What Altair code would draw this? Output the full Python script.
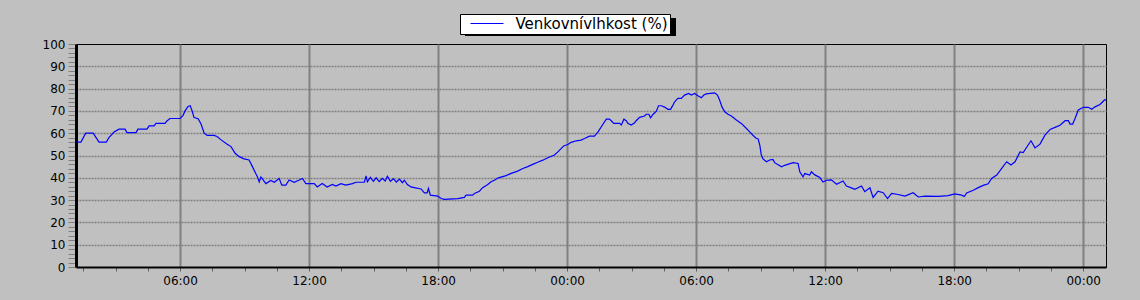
import altair as alt
import pandas as pd

SERIES = "Venkovnívlhkost (%)"
FONT = "DejaVu Sans"

# hours since 00:00 of the first day
hours = [
    1.19, 1.39, 1.61, 1.96, 2.23, 2.57, 2.69, 2.93, 3.16, 3.44,
    3.53, 3.95, 4.04, 4.46, 4.56, 4.79, 4.88, 5.30, 5.39, 5.53,
    6.00, 6.14, 6.23, 6.37, 6.47, 6.56, 6.65, 6.84, 6.98, 7.12,
    7.26, 7.58, 7.72, 7.91, 8.19, 8.37, 8.56, 8.75, 8.98, 9.21,
    9.37, 9.52, 9.60, 9.68, 9.76, 9.99, 10.22, 10.38, 10.61, 10.73,
    10.92, 11.07, 11.31, 11.54, 11.69, 11.85, 12.24, 12.38, 12.61, 12.84,
    13.08, 13.25, 13.48, 13.71, 14.02, 14.18, 14.57, 14.65, 14.71, 14.85,
    14.99, 15.12, 15.26, 15.40, 15.54, 15.64, 15.78, 15.92, 16.06, 16.20,
    16.34, 16.43, 16.57, 16.74, 16.89, 17.21, 17.36, 17.49, 17.55, 17.64,
    17.98, 18.14, 18.29, 18.91, 19.22, 19.30, 19.61, 19.69, 19.92, 20.07,
    20.31, 20.46, 20.62, 20.80, 21.16, 21.40, 21.70, 21.94, 22.17, 22.40,
    22.63, 22.87, 23.10, 23.41, 23.57, 23.72, 23.84, 24.03, 24.19, 24.42,
    24.65, 24.81, 25.04, 25.27, 25.43, 25.59, 25.82, 25.97, 26.05, 26.17,
    26.44, 26.52, 26.64, 26.75, 26.82, 26.98, 27.14, 27.21, 27.37, 27.60,
    27.68, 27.80, 27.88, 27.99, 28.15, 28.25, 28.38, 28.53, 28.69, 28.81,
    28.92, 29.00, 29.15, 29.31, 29.46, 29.65, 29.78, 29.93, 30.08, 30.24,
    30.36, 30.47, 30.86, 30.99, 31.09, 31.20, 31.33, 31.48, 31.64, 31.87,
    32.10, 32.34, 32.49, 32.64, 32.80, 32.88, 32.96, 33.03, 33.11, 33.27,
    33.42, 33.57, 33.65, 33.97, 34.12, 34.51, 34.74, 34.82, 34.97, 35.05,
    35.28, 35.36, 35.52, 35.75, 35.90, 36.06, 36.29, 36.53, 36.83, 36.99,
    37.22, 37.38, 37.69, 37.84, 38.08, 38.23, 38.46, 38.70, 38.90, 39.09,
    39.39, 39.71, 40.09, 40.33, 40.64, 41.26, 41.72, 42.03, 42.35, 42.47,
    42.58, 42.89, 43.12, 43.35, 43.58, 43.74, 43.98, 44.21, 44.44, 44.64,
    44.83, 45.06, 45.21, 45.37, 45.57, 45.76, 45.99, 46.22, 46.46, 46.69,
    46.92, 47.16, 47.31, 47.39, 47.51, 47.62, 47.77, 48.01, 48.24, 48.40,
    48.55, 48.78, 48.99, 49.06,
]

humidity = [
    56, 56, 60, 60, 56, 56, 58, 60.5, 61.8, 61.8,
    60.3, 60.3, 61.8, 61.8, 63.3, 63.3, 64.4, 64.4, 65.5, 66.6,
    66.6, 68, 70, 72, 72.3, 70, 67, 66.5, 64, 60,
    59, 59, 58.5, 57, 55, 54, 51, 49.5, 48.5, 48,
    44.9, 41.9, 40.4, 38.2, 40.4, 37.4, 38.8, 38, 39.7, 36.7,
    36.7, 39, 38, 39, 39.7, 37.4, 37.4, 35.9, 37.4, 35.9,
    37, 36.3, 37.4, 36.7, 37.4, 38, 38, 40.9, 38.2, 40.2,
    38.4, 40, 38.3, 39.8, 38.6, 40.7, 38.4, 39.6, 38.1, 39.4,
    37.8, 38.9, 37, 35.9, 35.6, 35, 33.2, 33.2, 35.2, 32.2,
    31.8, 30.7, 30.3, 30.7, 31.2, 32.2, 32.2, 33, 34, 35.6,
    37, 38.2, 38.9, 40, 41, 42, 43, 44.2, 45, 46,
    47, 47.9, 49, 50.2, 51.6, 53.1, 54.3, 54.9, 55.9, 56.6,
    56.9, 57.6, 58.7, 58.7, 60.5, 62.9, 66.3, 66.3, 65.6, 64.4,
    64.4, 63.7, 66.3, 65.6, 64.4, 63.7, 64.7, 65.6, 67.1, 67.7,
    68.5, 68.5, 66.9, 68.4, 69.9, 72.3, 72.3, 71.7, 70.7, 70.7,
    72.6, 74.1, 75.6, 75.6, 77.1, 77.8, 77.1, 77.8, 76.8, 75.9,
    77.1, 77.6, 78.1, 77.1, 74.9, 71.8, 69.6, 68.5, 67.7, 65.9,
    64.4, 62.1, 60.6, 59.1, 57.6, 57.5, 54.6, 50.2, 48.5, 47.2,
    48, 48.2, 46.8, 44.9, 45.6, 46.8, 46.4, 42.7, 40.4, 41.9,
    41.2, 42.7, 41.3, 40.1, 38.1, 38.9, 39.1, 37.1, 38.6, 36.3,
    35.5, 34.8, 36.3, 33.8, 35.5, 31.2, 34, 33.3, 30.7, 33,
    32.5, 31.8, 33.3, 31.4, 31.8, 31.7, 32, 32.8, 32.2, 31.6,
    33.2, 34.4, 35.6, 36.6, 37.3, 39.7, 41.2, 44.2, 47.2, 45.7,
    47.2, 51.6, 51.3, 53.7, 56.6, 53.4, 55.1, 59.1, 61.7, 62.6,
    63.6, 65.6, 65.6, 64.1, 64.1, 66.6, 70.4, 71.6, 71.6, 70.7,
    71.8, 72.9, 74.9, 74.9,
]

y_ticks = list(range(0, 101, 2))
x_ticks = [1.5 * i for i in range(1, 33)]
x_domain = [1.16, 49.06]

assert len(hours) == len(humidity)
df = pd.DataFrame({"h": hours, "v": humidity, "s": SERIES})

x_axis = alt.Axis(
    values=x_ticks, title=None,
    labelExpr="datum.value % 6 === 0 ? ((datum.value % 24) < 10 ? '0' : '') + (datum.value % 24) + ':00' : ''",
    grid=True,
    gridOpacity={"condition": {"test": "datum.value % 6 === 0", "value": 1}, "value": 0},
    gridColor="#808080", gridWidth=2,
    domainColor="black", domainWidth=2,
    tickColor="#606060", tickSize=4,
    labelFont=FONT, labelFontSize=12, labelColor="black",
    labelPadding=4, labelOverlap=False, labelFlush=False,
)

y_axis = alt.Axis(
    values=y_ticks, title=None,
    labelExpr="datum.value % 10 === 0 ? datum.label : ''",
    grid=True,
    gridOpacity={"condition": {"test": "datum.value % 10 === 0 && datum.value > 0 && datum.value < 100", "value": 1}, "value": 0},
    gridColor="#808080", gridWidth=1.5, gridDash=[2, 1],
    domainColor="black", domainWidth=3,
    tickColor="#808080", tickSize=8,
    labelFont=FONT, labelFontSize=12, labelColor="black",
    labelPadding=3, labelOverlap=False,
)

legend = alt.Legend(
    title=None, orient="none", legendX=384, legendY=-30,
    fillColor="white", strokeColor="black", padding=2,
    symbolType="M-3,0H3", symbolSize=121, symbolStrokeWidth=1,
    symbolOffset=17.5, labelOffset=21,
    labelFont=FONT, labelFontSize=15, labelColor="black",
)

shadow = alt.Chart(df).mark_rect(color="black").encode(
    x=alt.value(389), x2=alt.value(600), y=alt.value(-26), y2=alt.value(-8)
).transform_filter("datum.h < 1.2")

line = alt.Chart(df).mark_line(strokeWidth=1.2, clip=True).encode(
    x=alt.X("h:Q", scale=alt.Scale(domain=x_domain, nice=False, zero=False), axis=x_axis),
    y=alt.Y("v:Q", scale=alt.Scale(domain=[0, 100], nice=False), axis=y_axis),
    color=alt.Color("s:N", scale=alt.Scale(range=["#0000ff"]), legend=legend),
)

chart = alt.layer(shadow, line).properties(
    width=1030, height=223,
    padding={"left": 76, "top": 44, "right": 34, "bottom": 33},
    autosize=alt.AutoSizeParams(type="none"),
    background="#c0c0c0",
).configure_view(stroke="black", strokeWidth=1)

chart.save("out.html", embed_options={"renderer": "svg", "actions": False})
